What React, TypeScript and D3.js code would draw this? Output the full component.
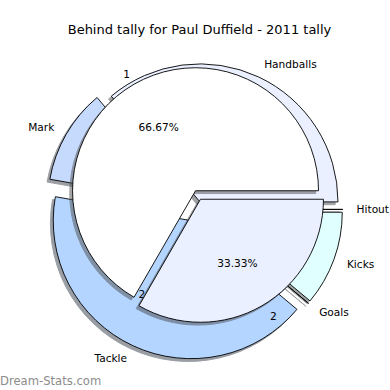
import React from "react";
import * as d3 from "d3";

// ── data ────────────────────────────────────────────────
const title = "Behind tally for Paul Duffield - 2011 tally";
const outerLabels = ["Handballs", "Mark", "Tackle", "Goals", "Kicks", "Hitout"];
const outerValues = [13, 4, 15, 0, 4, 0];
const outerCounts = ["", "", "2", "", "", ""];
const innerLabels = ["1", "2"];
const innerValues = [2, 1];

// ── style ───────────────────────────────────────────────
const outerColors = ["#eaf0ff", "#c6dafd", "#b4d5ff", "#ffffff", "#e0ffff", "#ffffff"];
const outerExplode = [0.06, 0.09, 0.09, 0.06, 0.06, 0.06];
const innerColors = ["#ffffff", "#eaf0ff"];
const innerExplode = [0.04, 0.04];

const W = 390, H = 390;
const FONT = "DejaVu Sans, sans-serif";
const outerC = { x: 196.5, y: 209.4 };
const innerC = { x: 198, y: 195 };
const R = 138;
const r = 123;
const SHADOW = { dx: -2.8, dy: 2.8 };

const shadowColor = (c: string) => {
  const k = d3.rgb(c);
  return d3.rgb(k.r * 0.3, k.g * 0.3, k.b * 0.3).formatHex();
};

// counter-clockwise from 3 o'clock, like matplotlib
const pieGen = d3.pie<number>().sort(null)
  .startAngle(Math.PI / 2)
  .endAngle(Math.PI / 2 - 2 * Math.PI);

type Slice = {
  d: string; cx: number; cy: number; dir: [number, number];
  fill: string; mid: number; i: number;
};

function buildSlices(values: number[], colors: string[], explode: number[], c: { x: number; y: number }, radius: number): Slice[] {
  const arc = d3.arc<d3.PieArcDatum<number>>().innerRadius(0).outerRadius(radius);
  return pieGen(values).map((p, i) => {
    const mid = (p.startAngle + p.endAngle) / 2;
    const dir: [number, number] = [Math.sin(mid), -Math.cos(mid)];
    const e = explode[i] * radius;
    return {
      d: arc(p) || "",
      cx: c.x + dir[0] * e,
      cy: c.y + dir[1] * e,
      dir, fill: colors[i], mid, i,
    };
  });
}

function Wedges({ slices }: { slices: Slice[] }) {
  return (
    <g>
      {slices.map(s => (
        <path key={"sh" + s.i} d={s.d}
          transform={`translate(${s.cx + SHADOW.dx},${s.cy + SHADOW.dy})`}
          fill={shadowColor(s.fill)} stroke={shadowColor(s.fill)} strokeWidth={1} opacity={0.5} />
      ))}
      {slices.map(s => (
        <path key={"w" + s.i} d={s.d}
          transform={`translate(${s.cx},${s.cy})`}
          fill={s.fill} stroke="#000" strokeWidth={0.9} strokeLinejoin="round" />
      ))}
    </g>
  );
}

export default function App() {
  const outer = buildSlices(outerValues, outerColors, outerExplode, outerC, R);
  const inner = buildSlices(innerValues, innerColors, innerExplode, innerC, r);
  const innerTotal = d3.sum(innerValues);

  // value label for Tackle peeks through the gap between the inner wedges
  const countAngle = (s: Slice) => s.mid + (9 * Math.PI) / 180;

  return (
    <div style={{ position: "absolute", left: 0, top: 0 }}>
      <svg width={W} height={H} style={{ display: "block", background: "#fff" }} fontFamily={FONT}>
        <text x={199.5} y={34} textAnchor="middle" fontSize={13} fill="#000">{title}</text>

        {/* outer ring */}
        <Wedges slices={outer} />
        {outer.map(s => (
          <text key={"ol" + s.i}
            x={s.cx + s.dir[0] * 1.1 * R} y={s.cy + s.dir[1] * 1.1 * R}
            textAnchor={s.dir[0] >= 0 ? "start" : "end"} dominantBaseline="central"
            fontSize={10.6} fill="#000">{outerLabels[s.i]}</text>
        ))}
        {outer.map(s => outerCounts[s.i] ? (
          <text key={"oc" + s.i}
            x={s.cx + Math.sin(countAngle(s)) * 0.64 * R}
            y={s.cy - Math.cos(countAngle(s)) * 0.64 * R}
            textAnchor="middle" dominantBaseline="central"
            fontSize={10.6} fill="#000">{outerCounts[s.i]}</text>
        ) : null)}

        {/* inner pie */}
        <Wedges slices={inner} />
        {inner.map(s => (
          <text key={"il" + s.i}
            x={s.cx + s.dir[0] * 1.1 * r + 2} y={s.cy + s.dir[1] * 1.1 * r}
            textAnchor={s.dir[0] >= 0 ? "start" : "end"} dominantBaseline="central"
            fontSize={10.6} fill="#000">{innerLabels[s.i]}</text>
        ))}
        {inner.map(s => (
          <text key={"ip" + s.i}
            x={s.cx + s.dir[0] * 0.6 * r} y={s.cy + s.dir[1] * 0.6 * r}
            textAnchor="middle" dominantBaseline="central"
            fontSize={10.6} fill="#000">{((innerValues[s.i] / innerTotal) * 100).toFixed(2)}%</text>
        ))}

        <text x={0} y={385} fontSize={11.6} fill="#8c8c8c">Dream-Stats.com</text>
      </svg>
    </div>
  );
}
